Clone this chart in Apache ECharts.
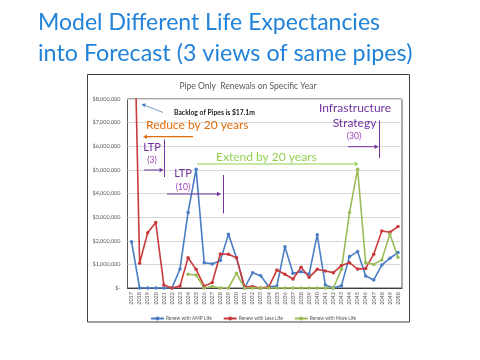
<!DOCTYPE html>
<html>
<head>
<meta charset="utf-8">
<script src="https://cdn.jsdelivr.net/npm/echarts@6/dist/echarts.min.js"></script>
<style>
html,body{margin:0;padding:0;background:#fff;}
#c{width:480px;height:360px;}
</style>
</head>
<body>
<div id="c"></div>
<script>
const years = ['2017','2018','2019','2020','2021','2022','2023','2024','2025','2026','2027','2028','2029','2030','2031','2032','2033','2034','2035','2036','2037','2038','2039','2040','2041','2042','2043','2044','2045','2046','2047','2048','2049','2050'];
const ampLife = [1960000,0,0,0,0,0,800000,3200000,5030000,1070000,1020000,1160000,2270000,1280000,0,650000,520000,50000,80000,1750000,620000,690000,590000,2250000,130000,0,100000,1330000,1540000,510000,340000,970000,1260000,1500000];
const lessLife = [17100000,1050000,2340000,2770000,130000,0,80000,1280000,790000,80000,230000,1440000,1430000,1280000,50000,60000,0,50000,760000,580000,380000,880000,450000,790000,720000,650000,950000,1070000,800000,830000,1430000,2410000,2360000,2600000];
const moreLife = [null,null,null,null,null,null,null,580000,550000,0,60000,0,0,620000,0,0,0,0,0,0,0,0,0,0,0,0,790000,3200000,5030000,1070000,1000000,1190000,2290000,1300000];
const seriesNames = ['Renew with AMP Life','Renew with Less Life','Renew with More Life'];

const purple = '#7030a0';
const purple2 = '#a040b8';
const orange = '#e46c0a';
const green = '#92d050';
const FF = 'Lato, "Open Sans", sans-serif';

function arrow(x1, y1, x2, y2, color, w) {
  const ang = Math.atan2(y2 - y1, x2 - x1);
  const L = 4, H = 2.2;
  const bx = x2 - L * Math.cos(ang), by = y2 - L * Math.sin(ang);
  const px = -Math.sin(ang) * H, py = Math.cos(ang) * H;
  return [
    {type:'line', shape:{x1:x1,y1:y1,x2:bx,y2:by}, style:{stroke:color,lineWidth:w||1}, z:100},
    {type:'polygon', shape:{points:[[x2,y2],[bx+px,by+py],[bx-px,by-py]]}, style:{fill:color}, z:100}
  ];
}
function vline(x, y1, y2, color) {
  return {type:'line', shape:{x1:x,y1:y1,x2:x,y2:y2}, style:{stroke:color,lineWidth:1}, z:100};
}
function txt(x, y, t, size, color, align, weight) {
  return {type:'text', x:x, y:y, style:{text:t, fontSize:size, fill:color, fontFamily:FF, align:align||'left', verticalAlign:'middle', fontWeight:weight||'normal'}, z:101};
}

const graphics = [
  {type:'rect', shape:{x:87.5,y:74.5,width:322,height:247.5}, style:{fill:'none',stroke:'#404040',lineWidth:1}, z:0},
  txt(38, 23, 'Model Different Life Expectancies', 23, '#2283d8'),
  txt(38, 53, 'into Forecast (3 views of same pipes)', 23.3, '#2283d8'),
  txt(248, 86, 'Pipe Only  Renewals on Specific Year', 8.5, '#595959', 'center'),
  txt(174, 113, 'Backlog of Pipes is $17.1m', 6.8, '#222', 'left', 'bold'),
  ...arrow(163, 112.5, 141.5, 104, '#4f81bd', 0.8),
  txt(146, 125, 'Reduce by 20 years', 12, orange),
  ...arrow(193, 136.7, 143, 136.7, orange, 1.2),
  txt(355, 108, 'Infrastructure', 12, purple, 'center'),
  txt(354.5, 123.5, 'Strategy', 12, purple, 'center'),
  txt(354, 136, '(30)', 8.5, purple2, 'center'),
  ...arrow(348, 146.7, 378.5, 146.7, purple, 1),
  vline(379.5, 120.5, 158, purple),
  txt(152, 147, 'LTP', 11, purple, 'center'),
  txt(152, 160, '(3)', 8.5, purple2, 'center'),
  ...arrow(144, 170, 163.5, 170, purple, 1),
  vline(164.5, 139.5, 177, purple),
  txt(183, 173, 'LTP', 11, purple, 'center'),
  txt(183, 187.5, '(10)', 8.5, purple2, 'center'),
  ...arrow(167, 194, 221, 194, purple, 1),
  vline(223.5, 175, 213.5, purple),
  txt(216, 157, 'Extend by 20 years', 12, green),
  ...arrow(197, 164, 358.5, 164, green, 1)
];

const chart = echarts.init(document.getElementById('c'), null, {renderer:'canvas'});
chart.setOption({
  animation: false,
  backgroundColor: '#fff',
  grid: {left:127.5, top:99, right:78, bottom:72, show:true, borderColor:'#595959', borderWidth:1, backgroundColor:'transparent'},
  xAxis: {
    type:'category', data: years, boundaryGap:true,
    axisLine:{show:true, lineStyle:{color:'#404040', width:1}},
    axisTick:{show:false},
    axisLabel:{rotate:90, fontSize:5.5, color:'#595959', margin:4, interval:0, fontFamily:FF},
    splitLine:{show:false}
  },
  yAxis: {
    type:'value', min:0, max:8000000, interval:1000000,
    axisLine:{show:false}, axisTick:{show:false},
    axisLabel:{fontSize:5.5, color:'#595959', margin:7, fontFamily:FF,
      formatter: v => v === 0 ? '$-' : '$' + v.toLocaleString('en-US')},
    splitLine:{lineStyle:{color:'#d9d9d9', width:1}}
  },
  legend: {
    data: seriesNames, left:145, top:311, itemWidth:13, itemHeight:5, itemGap:11,
    textStyle:{fontSize:4.8, color:'#595959', fontFamily:FF, padding:[0,0,0,-3]}
  },
  series: [
    {name:seriesNames[0], type:'line', data:ampLife, color:'#4a7dc4', symbol:'circle', symbolSize:3.5, lineStyle:{width:1.6}, clip:true},
    {name:seriesNames[1], type:'line', data:lessLife, color:'#c93a3a', symbol:'circle', symbolSize:3.5, lineStyle:{width:1.6}, clip:true},
    {name:seriesNames[2], type:'line', data:moreLife, color:'#9bbb59', symbol:'circle', symbolSize:3.5, lineStyle:{width:1.6}, clip:true}
  ],
  graphic: graphics
});
</script>
</body>
</html>
